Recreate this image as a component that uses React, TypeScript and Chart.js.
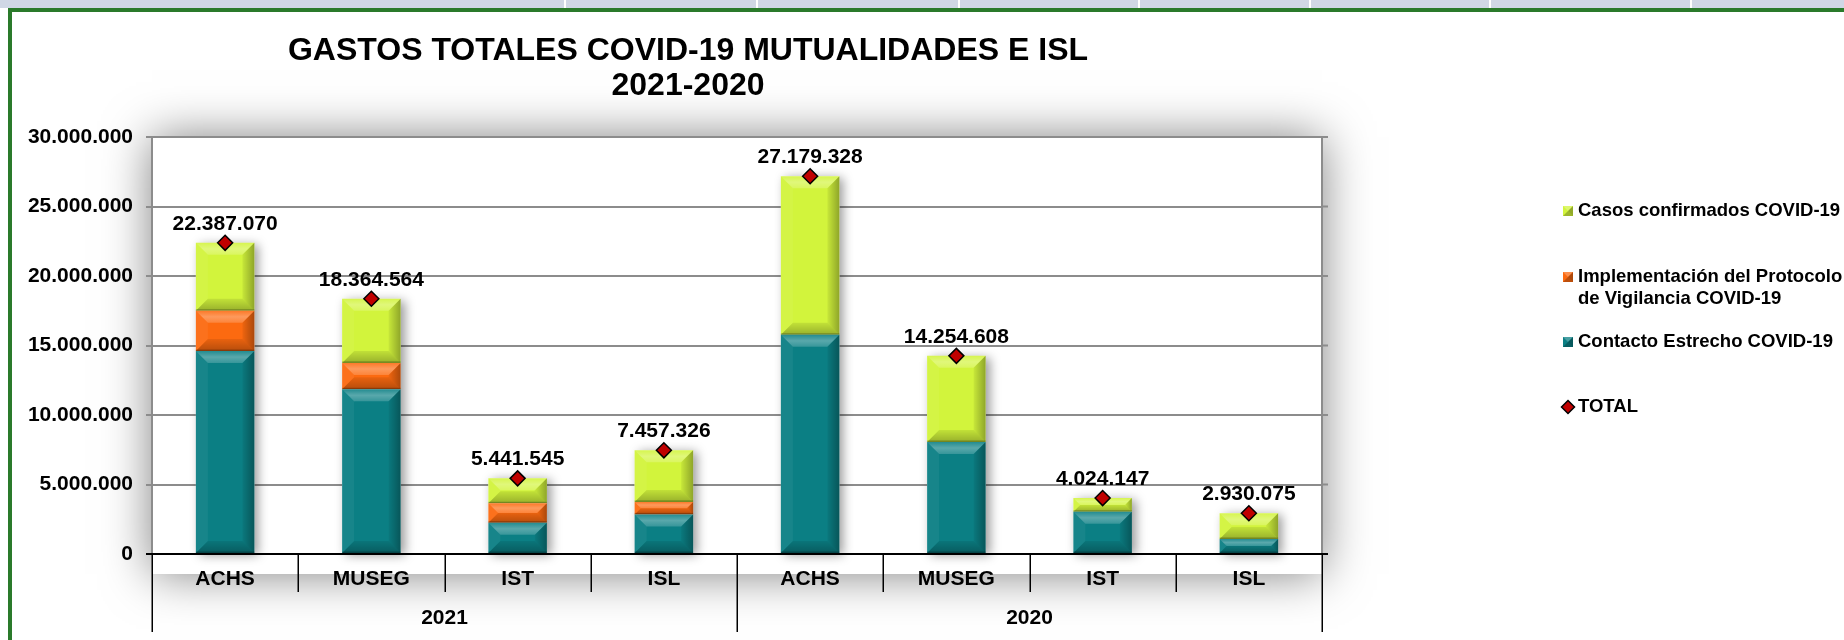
import React, { useEffect, useRef } from 'react';
import { Chart, registerables } from 'chart.js';

Chart.register(...registerables);

const categories = ['ACHS', 'MUSEG', 'IST', 'ISL', 'ACHS', 'MUSEG', 'IST', 'ISL'];
const years = ['2021', '2020'];
const contactoEstrecho = [14600000, 11850000, 2250000, 2850000, 15770000, 8060000, 3040000, 1080000];
const implementacionProtocolo = [2900000, 1900000, 1400000, 900000, 0, 0, 0, 0];
const casosConfirmados = [4887070, 4614564, 1791545, 3707326, 11409328, 6194608, 984147, 1850075];
const totales = [22387070, 18364564, 5441545, 7457326, 27179328, 14254608, 4024147, 2930075];
const yMax = 30000000;
const yStep = 5000000;

const titleLines = ['GASTOS TOTALES COVID-19 MUTUALIDADES E ISL', '2021-2020'];
const seriesNames = [
  'Contacto Estrecho COVID-19',
  'Implementación del Protocolo de Vigilancia COVID-19',
  'Casos confirmados COVID-19',
  'TOTAL',
];
const legendLines = [
  ['Casos confirmados COVID-19'],
  ['Implementación del Protocolo', 'de Vigilancia COVID-19'],
  ['Contacto Estrecho COVID-19'],
  ['TOTAL'],
];

const TEAL = '#0b7f84';
const ORANGE = '#fc6a10';
const GREEN = '#d2f43c';
const RED = '#c00000';
const FONT = "'Liberation Sans', Arial, Helvetica, sans-serif";

const fmt = (v: number) => String(Math.round(v)).replace(/\B(?=(\d{3})+(?!\d))/g, '.');

function poly(ctx: CanvasRenderingContext2D, pts: number[][], fill: any) {
  ctx.beginPath();
  ctx.moveTo(pts[0][0], pts[0][1]);
  for (let i = 1; i < pts.length; i++) ctx.lineTo(pts[i][0], pts[i][1]);
  ctx.closePath();
  ctx.fillStyle = fill;
  ctx.fill();
}

function bevel(ctx: CanvasRenderingContext2D, x0: number, x1: number, top: number, bottom: number, bmax: number) {
  const w = x1 - x0;
  const h = bottom - top;
  if (h <= 0.5) return;
  const b = Math.min(bmax, w / 2, h / 2);
  const gTop = ctx.createLinearGradient(0, top, 0, top + b);
  gTop.addColorStop(0, 'rgba(255,255,255,0.10)');
  gTop.addColorStop(0.5, 'rgba(255,255,255,0.32)');
  gTop.addColorStop(1, 'rgba(255,255,255,0.18)');
  poly(ctx, [[x0, top], [x1, top], [x1 - b, top + b], [x0 + b, top + b]], gTop);
  poly(ctx, [[x0, top], [x0 + b, top + b], [x0 + b, bottom - b], [x0, bottom]], 'rgba(255,255,255,0.05)');
  const gRight = ctx.createLinearGradient(x1 - b, 0, x1, 0);
  gRight.addColorStop(0, 'rgba(0,0,0,0.05)');
  gRight.addColorStop(1, 'rgba(0,0,0,0.32)');
  poly(ctx, [[x1, top], [x1, bottom], [x1 - b, bottom - b], [x1 - b, top + b]], gRight);
  const gBot = ctx.createLinearGradient(0, bottom - b, 0, bottom);
  gBot.addColorStop(0, 'rgba(0,0,0,0.08)');
  gBot.addColorStop(1, 'rgba(0,0,0,0.28)');
  poly(ctx, [[x0, bottom], [x1, bottom], [x1 - b, bottom - b], [x0 + b, bottom - b]], gBot);
  ctx.fillStyle = 'rgba(0,0,0,0.25)';
  ctx.fillRect(x0, bottom - 1.5, w, 1.5);
}

const decorPlugin = {
  id: 'decor',
  beforeDraw(chart: any) {
    const { ctx, chartArea: a } = chart;
    ctx.save();
    ctx.shadowColor = 'rgba(0,0,0,0.5)';
    ctx.shadowBlur = 45;
    ctx.fillStyle = '#ffffff';
    ctx.fillRect(a.left, a.top, a.right - a.left, a.bottom - a.top + 20);
    ctx.restore();
  },
  beforeDatasetsDraw(chart: any) {
    const { ctx } = chart;
    const first = chart.getDatasetMeta(0);
    const last = chart.getDatasetMeta(2);
    ctx.save();
    ctx.shadowColor = 'rgba(0,0,0,0.4)';
    ctx.shadowBlur = 10;
    ctx.shadowOffsetX = 4;
    ctx.shadowOffsetY = 2;
    ctx.fillStyle = '#ffffff';
    first.data.forEach((el: any, i: number) => {
      const topEl = last.data[i];
      const w = el.width;
      ctx.fillRect(el.x - w / 2, topEl.y, w, el.base - topEl.y);
    });
    ctx.restore();
  },
  afterDatasetDraw(chart: any, args: any) {
    if (args.index > 2) return;
    const { ctx } = chart;
    const meta = chart.getDatasetMeta(args.index);
    ctx.save();
    meta.data.forEach((el: any) => {
      const top = Math.min(el.y, el.base);
      const bottom = Math.max(el.y, el.base);
      bevel(ctx, el.x - el.width / 2, el.x + el.width / 2, top, bottom, 12);
    });
    ctx.restore();
  },
  afterDatasetsDraw(chart: any) {
    const { ctx } = chart;
    const meta = chart.getDatasetMeta(3);
    ctx.save();
    ctx.font = `bold 21px ${FONT}`;
    ctx.fillStyle = '#000';
    ctx.textAlign = 'center';
    ctx.textBaseline = 'middle';
    meta.data.forEach((pt: any, i: number) => {
      ctx.fillText(fmt(totales[i]), pt.x, pt.y - 19);
    });
    ctx.restore();
  },
  afterDraw(chart: any) {
    const { ctx, chartArea: a } = chart;
    const yScale = chart.scales.y;
    ctx.save();
    ctx.strokeStyle = '#8c8c8c';
    ctx.lineWidth = 2;
    ctx.beginPath();
    ctx.moveTo(a.right, a.top);
    ctx.lineTo(a.right, a.bottom);
    yScale.ticks.forEach((t: any) => {
      const y = yScale.getPixelForValue(t.value);
      ctx.moveTo(a.right, y);
      ctx.lineTo(a.right + 6, y);
    });
    ctx.stroke();
    ctx.strokeStyle = '#000';
    ctx.lineWidth = 2;
    ctx.beginPath();
    ctx.moveTo(a.left - 6, a.bottom);
    ctx.lineTo(a.right + 6, a.bottom);
    ctx.stroke();
    const n = categories.length;
    const per = n / years.length;
    const step = (a.right - a.left) / n;
    ctx.lineWidth = 1.5;
    ctx.beginPath();
    for (let i = 0; i <= n; i++) {
      const x = Math.round(a.left + i * step) + 0.25;
      const len = i % per === 0 ? 78 : 38;
      ctx.moveTo(x, a.bottom);
      ctx.lineTo(x, a.bottom + len);
    }
    ctx.stroke();

    ctx.fillStyle = '#000';
    ctx.textAlign = 'center';
    ctx.textBaseline = 'middle';
    ctx.font = `bold 32px ${FONT}`;
    ctx.fillText(titleLines[0], 688, 51);
    ctx.fillText(titleLines[1], 688, 86);

    const legendX = 1563;
    const textX = 1578;
    const rows = [211, 277, 342, 407];
    const colors = [GREEN, ORANGE, TEAL];
    ctx.font = `bold 18.5px ${FONT}`;
    ctx.textAlign = 'left';
    legendLines.forEach((lines, i) => {
      const y = rows[i];
      if (i < 3) {
        const c = colors[i];
        ctx.fillStyle = c;
        ctx.fillRect(legendX, y - 5, 10, 10);
        poly(ctx, [[legendX, y - 5], [legendX + 10, y - 5], [legendX + 5, y]], 'rgba(255,255,255,0.25)');
        poly(ctx, [[legendX + 10, y - 5], [legendX + 10, y + 5], [legendX + 5, y]], 'rgba(0,0,0,0.3)');
        poly(ctx, [[legendX, y + 5], [legendX + 10, y + 5], [legendX + 5, y]], 'rgba(0,0,0,0.25)');
      } else {
        ctx.beginPath();
        ctx.moveTo(legendX + 5, y - 6.5);
        ctx.lineTo(legendX + 11.5, y);
        ctx.lineTo(legendX + 5, y + 6.5);
        ctx.lineTo(legendX - 1.5, y);
        ctx.closePath();
        ctx.fillStyle = RED;
        ctx.fill();
        ctx.strokeStyle = '#000';
        ctx.lineWidth = 1.5;
        ctx.stroke();
      }
      ctx.fillStyle = '#000';
      lines.forEach((ln, j) => ctx.fillText(ln, textX, y + j * 22));
    });
    ctx.restore();
  },
};

export default function App() {
  const ref = useRef<HTMLCanvasElement | null>(null);

  useEffect(() => {
    document.body.style.margin = '0';
    const canvas = ref.current;
    if (!canvas) return;
    const tickFont = { family: FONT, size: 21, weight: 'bold' as const };
    const chart = new Chart(canvas, {
      type: 'bar',
      data: {
        labels: categories,
        datasets: [
          { type: 'bar', label: seriesNames[0], data: contactoEstrecho, backgroundColor: TEAL, stack: 'g', order: 1, borderWidth: 0 },
          { type: 'bar', label: seriesNames[1], data: implementacionProtocolo, backgroundColor: ORANGE, stack: 'g', order: 1, borderWidth: 0 },
          { type: 'bar', label: seriesNames[2], data: casosConfirmados, backgroundColor: GREEN, stack: 'g', order: 1, borderWidth: 0 },
          {
            type: 'line',
            label: seriesNames[3],
            data: totales,
            showLine: false,
            stack: 'total',
            order: 0,
            pointStyle: 'rectRot',
            pointRadius: 7.5,
            pointBackgroundColor: RED,
            pointBorderColor: '#000',
            pointBorderWidth: 1.5,
          } as any,
        ],
      },
      options: {
        responsive: false,
        animation: false,
        devicePixelRatio: 1,
        events: [],
        layout: { padding: { left: 0, top: 137, right: 522, bottom: 0 } },
        datasets: { bar: { barPercentage: 0.4, categoryPercentage: 1 } },
        plugins: { legend: { display: false }, tooltip: { enabled: false }, title: { display: false } },
        scales: {
          x: {
            type: 'category',
            stacked: true,
            offset: true,
            grid: { display: false, drawTicks: false },
            border: { display: false },
            ticks: { font: tickFont, color: '#000', padding: 13, maxRotation: 0, autoSkip: false },
            afterFit: (s: any) => { s.height = 44; },
          },
          x2: {
            type: 'category',
            labels: years,
            position: 'bottom',
            offset: true,
            grid: { display: false, drawTicks: false },
            border: { display: false },
            ticks: { font: tickFont, color: '#000', padding: 8, maxRotation: 0 },
            afterFit: (s: any) => { s.height = 42; },
          },
          y: {
            stacked: true,
            min: 0,
            max: yMax,
            ticks: { stepSize: yStep, font: tickFont, color: '#000', padding: 13, callback: (v: any) => fmt(Number(v)) },
            grid: { color: '#8c8c8c', lineWidth: 2, tickLength: 6 },
            border: { color: '#8c8c8c', width: 2 },
            afterFit: (s: any) => { s.width = 152; },
          },
        } as any,
      },
      plugins: [decorPlugin],
    });
    return () => chart.destroy();
  }, []);

  const seps = [564, 756, 958, 1138, 1309, 1489, 1690];
  return (
    <div style={{ position: 'relative', width: 1844, height: 640, overflow: 'hidden', background: '#fff' }}>
      <div style={{ position: 'absolute', left: 0, top: 0, width: 1844, height: 8, background: '#d0d7e5' }} />
      {seps.map((x) => (
        <div key={x} style={{ position: 'absolute', left: x, top: 0, width: 2, height: 8, background: '#ffffff' }} />
      ))}
      <div style={{ position: 'absolute', left: 8, top: 8, right: 0, height: 4, background: '#2a7a2b' }} />
      <div style={{ position: 'absolute', left: 8, top: 8, width: 4, bottom: 0, background: '#2a7a2b' }} />
      <canvas ref={ref} width={1844} height={640} style={{ position: 'absolute', left: 0, top: 0, width: 1844, height: 640 }} />
    </div>
  );
}
